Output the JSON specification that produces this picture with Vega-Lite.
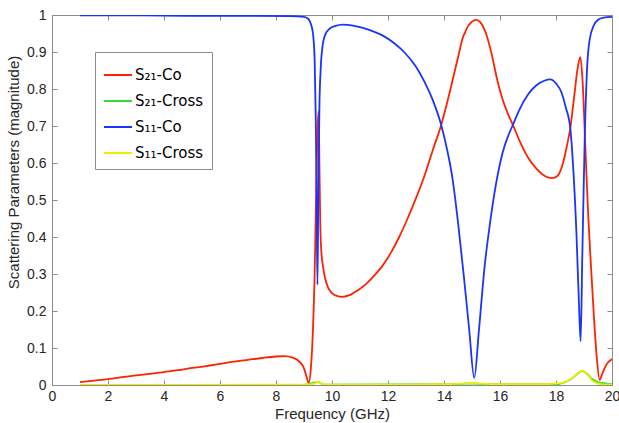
{
  "$schema": "https://vega.github.io/schema/vega-lite/v6.json",
  "width": 560,
  "height": 370,
  "autosize": {"type": "none"},
  "padding": {"left": 52, "top": 15, "right": 7, "bottom": 38},
  "background": "white",
  "config": {
    "font": "Liberation Sans",
    "view": {"stroke": "#8c8c8c", "strokeWidth": 1},
    "axis": {
      "grid": false,
      "domainColor": "#8c8c8c",
      "tickColor": "#8c8c8c",
      "tickSize": -5,
      "labelFont": "Liberation Sans",
      "titleFont": "Liberation Sans",
      "labelFontSize": 14,
      "titleFontSize": 15,
      "titleFontWeight": "normal",
      "labelColor": "#262626",
      "titleColor": "#262626"
    }
  },
  "datasets": {
    "s": [
      {"f": 1.0, "v": 0.008, "s": "S₂₁-Co"},
      {"f": 1.5, "v": 0.012, "s": "S₂₁-Co"},
      {"f": 2.0, "v": 0.016, "s": "S₂₁-Co"},
      {"f": 2.5, "v": 0.021, "s": "S₂₁-Co"},
      {"f": 3.0, "v": 0.026, "s": "S₂₁-Co"},
      {"f": 3.5, "v": 0.030, "s": "S₂₁-Co"},
      {"f": 4.0, "v": 0.035, "s": "S₂₁-Co"},
      {"f": 4.5, "v": 0.040, "s": "S₂₁-Co"},
      {"f": 5.0, "v": 0.046, "s": "S₂₁-Co"},
      {"f": 5.5, "v": 0.051, "s": "S₂₁-Co"},
      {"f": 6.0, "v": 0.057, "s": "S₂₁-Co"},
      {"f": 6.5, "v": 0.063, "s": "S₂₁-Co"},
      {"f": 7.0, "v": 0.068, "s": "S₂₁-Co"},
      {"f": 7.5, "v": 0.073, "s": "S₂₁-Co"},
      {"f": 8.0, "v": 0.077, "s": "S₂₁-Co"},
      {"f": 8.3, "v": 0.078, "s": "S₂₁-Co"},
      {"f": 8.6, "v": 0.074, "s": "S₂₁-Co"},
      {"f": 8.85, "v": 0.062, "s": "S₂₁-Co"},
      {"f": 9.0, "v": 0.045, "s": "S₂₁-Co"},
      {"f": 9.1, "v": 0.020, "s": "S₂₁-Co"},
      {"f": 9.17, "v": 0.005, "s": "S₂₁-Co"},
      {"f": 9.25, "v": 0.05, "s": "S₂₁-Co"},
      {"f": 9.32, "v": 0.15, "s": "S₂₁-Co"},
      {"f": 9.38, "v": 0.30, "s": "S₂₁-Co"},
      {"f": 9.43, "v": 0.50, "s": "S₂₁-Co"},
      {"f": 9.48, "v": 0.68, "s": "S₂₁-Co"},
      {"f": 9.52, "v": 0.74, "s": "S₂₁-Co"},
      {"f": 9.55, "v": 0.60, "s": "S₂₁-Co"},
      {"f": 9.58, "v": 0.44, "s": "S₂₁-Co"},
      {"f": 9.62, "v": 0.36, "s": "S₂₁-Co"},
      {"f": 9.68, "v": 0.32, "s": "S₂₁-Co"},
      {"f": 9.75, "v": 0.29, "s": "S₂₁-Co"},
      {"f": 9.85, "v": 0.265, "s": "S₂₁-Co"},
      {"f": 10.0, "v": 0.248, "s": "S₂₁-Co"},
      {"f": 10.2, "v": 0.240, "s": "S₂₁-Co"},
      {"f": 10.35, "v": 0.238, "s": "S₂₁-Co"},
      {"f": 10.6, "v": 0.242, "s": "S₂₁-Co"},
      {"f": 10.9, "v": 0.255, "s": "S₂₁-Co"},
      {"f": 11.2, "v": 0.272, "s": "S₂₁-Co"},
      {"f": 11.5, "v": 0.295, "s": "S₂₁-Co"},
      {"f": 11.8, "v": 0.322, "s": "S₂₁-Co"},
      {"f": 12.1, "v": 0.357, "s": "S₂₁-Co"},
      {"f": 12.4, "v": 0.400, "s": "S₂₁-Co"},
      {"f": 12.7, "v": 0.450, "s": "S₂₁-Co"},
      {"f": 13.0, "v": 0.505, "s": "S₂₁-Co"},
      {"f": 13.3, "v": 0.565, "s": "S₂₁-Co"},
      {"f": 13.6, "v": 0.635, "s": "S₂₁-Co"},
      {"f": 13.9, "v": 0.703, "s": "S₂₁-Co"},
      {"f": 14.2, "v": 0.790, "s": "S₂₁-Co"},
      {"f": 14.5, "v": 0.885, "s": "S₂₁-Co"},
      {"f": 14.7, "v": 0.945, "s": "S₂₁-Co"},
      {"f": 14.75, "v": 0.952, "s": "S₂₁-Co"},
      {"f": 14.8, "v": 0.962, "s": "S₂₁-Co"},
      {"f": 15.0, "v": 0.982, "s": "S₂₁-Co"},
      {"f": 15.15, "v": 0.987, "s": "S₂₁-Co"},
      {"f": 15.3, "v": 0.980, "s": "S₂₁-Co"},
      {"f": 15.5, "v": 0.950, "s": "S₂₁-Co"},
      {"f": 15.7, "v": 0.895, "s": "S₂₁-Co"},
      {"f": 15.9, "v": 0.825, "s": "S₂₁-Co"},
      {"f": 16.1, "v": 0.770, "s": "S₂₁-Co"},
      {"f": 16.3, "v": 0.730, "s": "S₂₁-Co"},
      {"f": 16.46, "v": 0.703, "s": "S₂₁-Co"},
      {"f": 16.7, "v": 0.660, "s": "S₂₁-Co"},
      {"f": 17.0, "v": 0.615, "s": "S₂₁-Co"},
      {"f": 17.3, "v": 0.585, "s": "S₂₁-Co"},
      {"f": 17.6, "v": 0.565, "s": "S₂₁-Co"},
      {"f": 17.85, "v": 0.559, "s": "S₂₁-Co"},
      {"f": 18.05, "v": 0.565, "s": "S₂₁-Co"},
      {"f": 18.25, "v": 0.600, "s": "S₂₁-Co"},
      {"f": 18.4, "v": 0.650, "s": "S₂₁-Co"},
      {"f": 18.51, "v": 0.694, "s": "S₂₁-Co"},
      {"f": 18.65, "v": 0.780, "s": "S₂₁-Co"},
      {"f": 18.78, "v": 0.860, "s": "S₂₁-Co"},
      {"f": 18.87, "v": 0.886, "s": "S₂₁-Co"},
      {"f": 18.95, "v": 0.820, "s": "S₂₁-Co"},
      {"f": 19.05, "v": 0.640, "s": "S₂₁-Co"},
      {"f": 19.15, "v": 0.460, "s": "S₂₁-Co"},
      {"f": 19.25, "v": 0.320, "s": "S₂₁-Co"},
      {"f": 19.35, "v": 0.190, "s": "S₂₁-Co"},
      {"f": 19.45, "v": 0.080, "s": "S₂₁-Co"},
      {"f": 19.56, "v": 0.014, "s": "S₂₁-Co"},
      {"f": 19.65, "v": 0.030, "s": "S₂₁-Co"},
      {"f": 19.8, "v": 0.055, "s": "S₂₁-Co"},
      {"f": 20.0, "v": 0.070, "s": "S₂₁-Co"},

      {"f": 1.0, "v": 0.0003, "s": "S₂₁-Cross"},
      {"f": 9.0, "v": 0.0005, "s": "S₂₁-Cross"},
      {"f": 9.5, "v": 0.008, "s": "S₂₁-Cross"},
      {"f": 9.7, "v": 0.001, "s": "S₂₁-Cross"},
      {"f": 14.5, "v": 0.002, "s": "S₂₁-Cross"},
      {"f": 14.8, "v": 0.004, "s": "S₂₁-Cross"},
      {"f": 15.1, "v": 0.004, "s": "S₂₁-Cross"},
      {"f": 15.5, "v": 0.002, "s": "S₂₁-Cross"},
      {"f": 18.0, "v": 0.002, "s": "S₂₁-Cross"},
      {"f": 18.5, "v": 0.014, "s": "S₂₁-Cross"},
      {"f": 18.75, "v": 0.029, "s": "S₂₁-Cross"},
      {"f": 18.94, "v": 0.038, "s": "S₂₁-Cross"},
      {"f": 19.1, "v": 0.031, "s": "S₂₁-Cross"},
      {"f": 19.3, "v": 0.016, "s": "S₂₁-Cross"},
      {"f": 19.5, "v": 0.008, "s": "S₂₁-Cross"},
      {"f": 19.8, "v": 0.004, "s": "S₂₁-Cross"},
      {"f": 20.0, "v": 0.002, "s": "S₂₁-Cross"},

      {"f": 1.0, "v": 0.999, "s": "S₁₁-Co"},
      {"f": 3.0, "v": 0.999, "s": "S₁₁-Co"},
      {"f": 5.0, "v": 0.998, "s": "S₁₁-Co"},
      {"f": 7.0, "v": 0.998, "s": "S₁₁-Co"},
      {"f": 8.5, "v": 0.997, "s": "S₁₁-Co"},
      {"f": 9.0, "v": 0.995, "s": "S₁₁-Co"},
      {"f": 9.15, "v": 0.990, "s": "S₁₁-Co"},
      {"f": 9.25, "v": 0.975, "s": "S₁₁-Co"},
      {"f": 9.32, "v": 0.950, "s": "S₁₁-Co"},
      {"f": 9.38, "v": 0.880, "s": "S₁₁-Co"},
      {"f": 9.42, "v": 0.720, "s": "S₁₁-Co"},
      {"f": 9.45, "v": 0.500, "s": "S₁₁-Co"},
      {"f": 9.48, "v": 0.271, "s": "S₁₁-Co"},
      {"f": 9.51, "v": 0.500, "s": "S₁₁-Co"},
      {"f": 9.55, "v": 0.750, "s": "S₁₁-Co"},
      {"f": 9.6, "v": 0.860, "s": "S₁₁-Co"},
      {"f": 9.67, "v": 0.920, "s": "S₁₁-Co"},
      {"f": 9.75, "v": 0.945, "s": "S₁₁-Co"},
      {"f": 9.9, "v": 0.962, "s": "S₁₁-Co"},
      {"f": 10.1, "v": 0.970, "s": "S₁₁-Co"},
      {"f": 10.4, "v": 0.974, "s": "S₁₁-Co"},
      {"f": 10.7, "v": 0.972, "s": "S₁₁-Co"},
      {"f": 11.0, "v": 0.967, "s": "S₁₁-Co"},
      {"f": 11.4, "v": 0.958, "s": "S₁₁-Co"},
      {"f": 11.8, "v": 0.945, "s": "S₁₁-Co"},
      {"f": 12.2, "v": 0.925, "s": "S₁₁-Co"},
      {"f": 12.6, "v": 0.898, "s": "S₁₁-Co"},
      {"f": 13.0, "v": 0.860, "s": "S₁₁-Co"},
      {"f": 13.3, "v": 0.820, "s": "S₁₁-Co"},
      {"f": 13.6, "v": 0.770, "s": "S₁₁-Co"},
      {"f": 13.9, "v": 0.703, "s": "S₁₁-Co"},
      {"f": 14.1, "v": 0.640, "s": "S₁₁-Co"},
      {"f": 14.3, "v": 0.560, "s": "S₁₁-Co"},
      {"f": 14.5, "v": 0.440, "s": "S₁₁-Co"},
      {"f": 14.7, "v": 0.300, "s": "S₁₁-Co"},
      {"f": 14.9, "v": 0.150, "s": "S₁₁-Co"},
      {"f": 15.08, "v": 0.019, "s": "S₁₁-Co"},
      {"f": 15.25, "v": 0.150, "s": "S₁₁-Co"},
      {"f": 15.45, "v": 0.320, "s": "S₁₁-Co"},
      {"f": 15.63, "v": 0.430, "s": "S₁₁-Co"},
      {"f": 15.85, "v": 0.540, "s": "S₁₁-Co"},
      {"f": 16.1, "v": 0.630, "s": "S₁₁-Co"},
      {"f": 16.3, "v": 0.675, "s": "S₁₁-Co"},
      {"f": 16.46, "v": 0.703, "s": "S₁₁-Co"},
      {"f": 16.7, "v": 0.745, "s": "S₁₁-Co"},
      {"f": 17.0, "v": 0.785, "s": "S₁₁-Co"},
      {"f": 17.3, "v": 0.810, "s": "S₁₁-Co"},
      {"f": 17.6, "v": 0.823, "s": "S₁₁-Co"},
      {"f": 17.8, "v": 0.826, "s": "S₁₁-Co"},
      {"f": 18.0, "v": 0.815, "s": "S₁₁-Co"},
      {"f": 18.2, "v": 0.790, "s": "S₁₁-Co"},
      {"f": 18.35, "v": 0.750, "s": "S₁₁-Co"},
      {"f": 18.51, "v": 0.694, "s": "S₁₁-Co"},
      {"f": 18.62, "v": 0.580, "s": "S₁₁-Co"},
      {"f": 18.73, "v": 0.410, "s": "S₁₁-Co"},
      {"f": 18.82, "v": 0.220, "s": "S₁₁-Co"},
      {"f": 18.88, "v": 0.118, "s": "S₁₁-Co"},
      {"f": 18.94, "v": 0.350, "s": "S₁₁-Co"},
      {"f": 19.03, "v": 0.680, "s": "S₁₁-Co"},
      {"f": 19.12, "v": 0.870, "s": "S₁₁-Co"},
      {"f": 19.2, "v": 0.933, "s": "S₁₁-Co"},
      {"f": 19.35, "v": 0.972, "s": "S₁₁-Co"},
      {"f": 19.5, "v": 0.987, "s": "S₁₁-Co"},
      {"f": 19.7, "v": 0.993, "s": "S₁₁-Co"},
      {"f": 20.0, "v": 0.995, "s": "S₁₁-Co"},

      {"f": 1.0, "v": 0.0005, "s": "S₁₁-Cross"},
      {"f": 5.0, "v": 0.0005, "s": "S₁₁-Cross"},
      {"f": 9.0, "v": 0.001, "s": "S₁₁-Cross"},
      {"f": 9.4, "v": 0.004, "s": "S₁₁-Cross"},
      {"f": 9.5, "v": 0.010, "s": "S₁₁-Cross"},
      {"f": 9.6, "v": 0.004, "s": "S₁₁-Cross"},
      {"f": 9.8, "v": 0.001, "s": "S₁₁-Cross"},
      {"f": 12.0, "v": 0.001, "s": "S₁₁-Cross"},
      {"f": 14.0, "v": 0.002, "s": "S₁₁-Cross"},
      {"f": 14.8, "v": 0.004, "s": "S₁₁-Cross"},
      {"f": 15.1, "v": 0.005, "s": "S₁₁-Cross"},
      {"f": 15.5, "v": 0.003, "s": "S₁₁-Cross"},
      {"f": 16.0, "v": 0.002, "s": "S₁₁-Cross"},
      {"f": 17.5, "v": 0.002, "s": "S₁₁-Cross"},
      {"f": 18.2, "v": 0.006, "s": "S₁₁-Cross"},
      {"f": 18.5, "v": 0.015, "s": "S₁₁-Cross"},
      {"f": 18.75, "v": 0.030, "s": "S₁₁-Cross"},
      {"f": 18.94, "v": 0.039, "s": "S₁₁-Cross"},
      {"f": 19.1, "v": 0.030, "s": "S₁₁-Cross"},
      {"f": 19.3, "v": 0.012, "s": "S₁₁-Cross"},
      {"f": 19.5, "v": 0.004, "s": "S₁₁-Cross"},
      {"f": 19.8, "v": 0.001, "s": "S₁₁-Cross"},
      {"f": 20.0, "v": 0.001, "s": "S₁₁-Cross"}
    ]
  },
  "data": {"name": "s"},
  "layer": [
    {
      "mark": {"type": "line", "strokeWidth": 1.8, "clip": true, "interpolate": "monotone"},
      "encoding": {
        "x": {
          "field": "f", "type": "quantitative",
          "scale": {"domain": [0, 20], "nice": false, "zero": false},
          "axis": {"title": "Frequency (GHz)", "values": [0, 2, 4, 6, 8, 10, 12, 14, 16, 18, 20], "labelPadding": 9, "titlePadding": 3, "labelFlush": false}
        },
        "y": {
          "field": "v", "type": "quantitative",
          "scale": {"domain": [0, 1], "nice": false},
          "axis": {"title": "Scattering Parameters (magnitude)", "values": [0, 0.1, 0.2, 0.3, 0.4, 0.5, 0.6, 0.7, 0.8, 0.9, 1], "format": "~g", "labelPadding": 11, "titlePadding": 5, "titleY": 157, "labelFlush": false}
        },
        "color": {
          "field": "s", "type": "nominal", "sort": null,
          "scale": {"domain": ["S₂₁-Co", "S₂₁-Cross", "S₁₁-Co", "S₁₁-Cross"], "range": ["#ff2200", "#33dd33", "#1a33ff", "#eeee00"]},
          "legend": {
            "title": null, "orient": "none", "legendX": 43, "legendY": 37,
            "symbolType": "stroke", "symbolSize": 780, "symbolStrokeWidth": 2,
            "labelFontSize": 15, "labelColor": "#000000", "labelFont": "DejaVu Sans",
            "rowPadding": 3, "padding": 8, "strokeColor": "#8c8c8c", "fillColor": "white",
            "labelOffset": 2
          }
        }
      }
    },
    {
      "mark": {"type": "point", "opacity": 0},
      "encoding": {
        "x": {"field": "f", "type": "quantitative", "axis": {"orient": "top", "labels": false, "title": null, "values": [0, 2, 4, 6, 8, 10, 12, 14, 16, 18, 20]}},
        "y": {"field": "v", "type": "quantitative", "axis": {"orient": "right", "labels": false, "title": null, "values": [0, 0.1, 0.2, 0.3, 0.4, 0.5, 0.6, 0.7, 0.8, 0.9, 1]}}
      }
    }
  ],
  "resolve": {"axis": {"x": "independent", "y": "independent"}}
}
